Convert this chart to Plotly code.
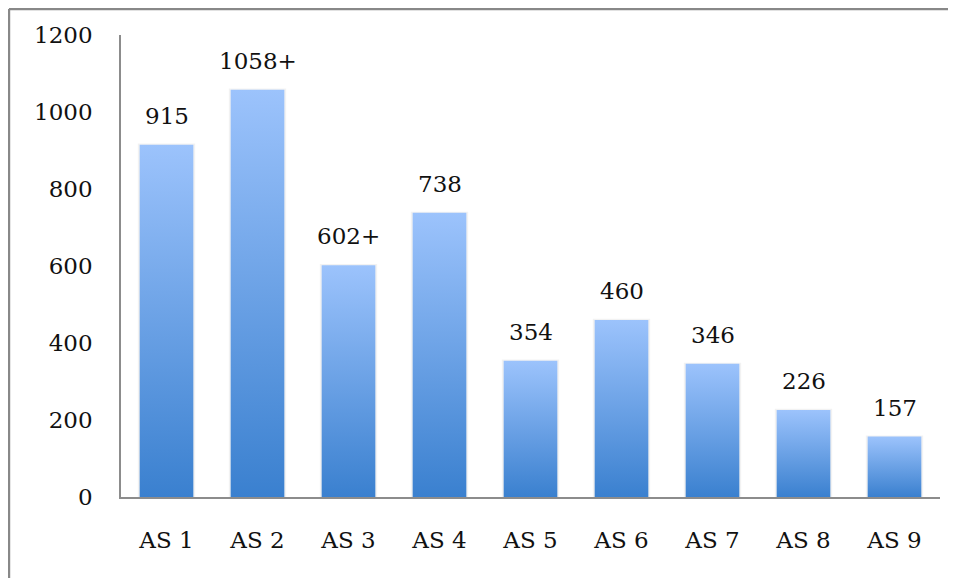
import plotly.graph_objects as go

categories = ["AS 1", "AS 2", "AS 3", "AS 4", "AS 5", "AS 6", "AS 7", "AS 8", "AS 9"]
values = [915, 1058, 602, 738, 354, 460, 346, 226, 157]
value_labels = ["915", "1058+", "602+", "738", "354", "460", "346", "226", "157"]
y_ticks = [0, 200, 400, 600, 800, 1000, 1200]

FONT = "DejaVu Serif"
TOP = "#9cc3fc"
BOTTOM = "#3a80cf"
half = 0.295

fig = go.Figure()
for i, v in enumerate(values):
    # light shadow behind bar
    fig.add_trace(go.Scatter(
        x=[i - half - 0.02, i - half - 0.02, i + half + 0.02, i + half + 0.02, i - half - 0.02],
        y=[0, v + 3, v + 3, 0, 0],
        fill="toself", fillcolor="rgba(0,0,0,0.05)", mode="lines",
        line=dict(width=0), hoverinfo="skip", showlegend=False))
    fig.add_trace(go.Scatter(
        x=[i - half, i - half, i + half, i + half, i - half],
        y=[0, v, v, 0, 0],
        fill="toself", mode="lines", line=dict(width=0),
        fillgradient=dict(type="vertical", colorscale=[[0, BOTTOM], [1, TOP]]),
        name=categories[i], showlegend=False))

annotations = [
    dict(x=i, y=v, text=lbl, showarrow=False, xref="x", yref="y",
         yanchor="bottom", yshift=14,
         font=dict(family=FONT, size=23, color="#111"))
    for i, (v, lbl) in enumerate(zip(values, value_labels))
]

frame = dict(color="#888888", width=2.5)
fig.update_layout(
    width=948, height=570,
    margin=dict(l=113, r=16, t=27, b=81),
    paper_bgcolor="white", plot_bgcolor="white",
    font=dict(family=FONT, size=23, color="#111"),
    xaxis=dict(range=[-0.5, 8.5], tickvals=list(range(len(categories))),
               ticktext=categories, showgrid=False, zeroline=False,
               showline=True, linecolor="#8c8c8c", linewidth=1.5,
               ticks="", ticklabelstandoff=22, fixedrange=True),
    yaxis=dict(range=[0, 1200], tickvals=y_ticks, showgrid=False,
               zeroline=False, showline=True, linecolor="#8c8c8c", linewidth=1.5,
               ticks="", ticklabelstandoff=22, fixedrange=True),
    annotations=annotations,
    shapes=[
        dict(type="line", xref="paper", yref="paper",
             x0=-0.1368, x1=1.2, y0=1.0563, y1=1.0563, line=frame, layer="below"),
        dict(type="line", xref="paper", yref="paper",
             x0=-0.1368, x1=-0.1368, y0=-0.4, y1=1.0563, line=frame, layer="below"),
    ],
)

fig.write_html("out.html")
